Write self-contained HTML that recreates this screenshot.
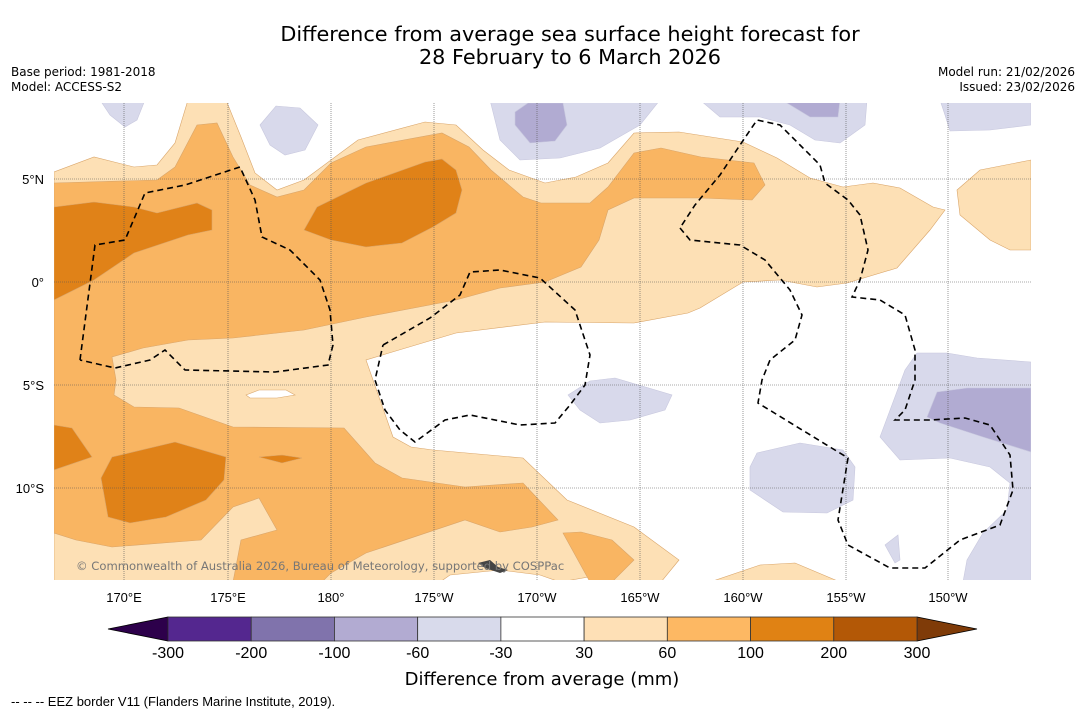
<!DOCTYPE html>
<html><head><meta charset="utf-8">
<style>
body{margin:0;background:#fff;width:1085px;height:713px;overflow:hidden;font-family:"Liberation Sans",sans-serif}
svg{display:block}
.dv{font-family:"DejaVu Sans",sans-serif}
</style></head><body>
<svg width="1085" height="713" viewBox="0 0 1085 713" xmlns="http://www.w3.org/2000/svg" font-family="Liberation Sans, sans-serif">
<rect width="1085" height="713" fill="#fff"/>
<text class="dv" x="570" y="41" font-size="20.8" text-anchor="middle">Difference from average sea surface height forecast for</text>
<text class="dv" x="570" y="64" font-size="20.8" text-anchor="middle">28 February to 6 March 2026</text>
<text class="dv" x="11" y="76" font-size="12">Base period: 1981-2018</text>
<text class="dv" x="11" y="91" font-size="12">Model: ACCESS-S2</text>
<text class="dv" x="1075" y="76" font-size="12" text-anchor="end">Model run: 21/02/2026</text>
<text class="dv" x="1075" y="91" font-size="12" text-anchor="end">Issued: 23/02/2026</text>

<defs><clipPath id="mc"><rect x="54" y="103" width="977" height="477"/></clipPath></defs>
<g clip-path="url(#mc)">
<rect x="54" y="103" width="977" height="477" fill="#fff"/>
<g stroke="#d9a56a" stroke-width="0.6">
<polygon fill="#fde0b5" points="54,172 94,157 134,167 157,165 175,143 188,100 226,100 241,137 255,173 277,190 304,180 358,140 425,122 456,125 483,150 509,170 545,183 576,177 608,163 634,133 679,132 743,142 777,158 810,178 843,187 873,183 900,188 933,207 945,210 930,230 897,268 847,283 817,287 780,280 743,282 700,308 688,313 634,323 545,322 456,333 389,353 366,360 393,437 411,447 433,450 523,458 567,500 634,527 679,560 661,582 620,582 600,575 560,582 540,575 500,570 450,575 440,582 54,582"/>
<polygon fill="#fde0b5" points="957,190 980,170 1031,160 1031,250 1010,250 990,240 960,215"/>
<polygon fill="#fde0b5" points="710,582 760,565 795,563 840,582"/>
<polygon fill="#f9b562" points="54,183 157,180 175,167 197,125 217,123 233,157 250,185 277,197 304,190 331,163 366,147 442,133 469,147 491,170 523,197 541,203 590,203 608,187 634,153 661,148 701,157 754,163 765,185 752,200 700,198 634,198 608,210 599,240 581,267 545,282 500,288 456,300 366,317 304,330 233,338 188,340 143,348 112,357 116,380 114,395 134,407 179,408 233,427 344,428 375,463 402,478 465,487 523,483 558,520 532,527 500,532 465,520 366,553 331,573 322,582 233,582 241,540 277,530 259,498 233,507 201,540 112,547 76,540 54,533"/>
<polygon fill="#f9b562" points="563,533 581,532 612,540 634,560 612,582 590,582"/>
<polygon fill="#e08218" points="54,207 94,202 134,207 157,213 197,203 212,210 212,230 188,235 134,253 94,280 54,300"/>
<polygon fill="#e08218" points="304,230 317,207 366,183 425,162 442,159 456,170 462,190 456,213 433,227 402,243 366,247 331,240"/>
<polygon fill="#e08218" points="101,478 112,457 175,442 226,457 224,480 206,500 166,517 130,523 108,517"/>
<polygon fill="#e08218" points="54,425 72,428 92,457 54,470"/>
<polygon fill="#e08218" points="259,457 282,455 302,458 282,463"/>
<polygon fill="#fff" points="246,395 259,390 286,390 295,395 277,398 250,398"/>
</g>
<g stroke="#c8c8de" stroke-width="0.6">
<polygon fill="#d8d9eb" points="100,100 145,100 137,120 125,127 110,115"/>
<polygon fill="#d8d9eb" points="260,125 276,106 300,108 318,125 305,150 285,155 270,145"/>
<polygon fill="#d8d9eb" points="490,100 660,100 640,125 600,148 560,158 520,160 500,140"/>
<polygon fill="#b1abd2" points="515,112 528,103 563,103 567,125 555,141 530,143 515,125"/>
<polygon fill="#d8d9eb" points="700,100 867,100 865,125 840,143 815,140 790,125 760,117 720,117"/>
<polygon fill="#b1abd2" points="782,100 840,100 838,117 810,117"/>
<polygon fill="#d8d9eb" points="940,100 1031,100 1031,125 990,130 950,131 945,115"/>
<polygon fill="#d8d9eb" points="568,395 590,381 615,378 672,395 665,410 630,420 600,423 580,410"/>
<polygon fill="#d8d9eb" points="880,437 905,370 917,353 947,353 977,358 1031,362 1031,582 963,582 967,560 983,533 1007,510 1010,483 990,467 950,458 900,460"/>
<polygon fill="#b1abd2" points="927,417 937,392 967,388 1031,388 1031,452 983,437 940,423"/>
<polygon fill="#d8d9eb" points="750,467 757,453 800,443 843,450 855,467 853,500 827,513 783,512 750,490"/>
<polygon fill="#d8d9eb" points="885,545 898,535 900,560 895,563"/>
</g>
<g stroke="#555" stroke-width="0.6" stroke-dasharray="1,1">
<line x1="124" y1="103" x2="124" y2="580"/><line x1="228" y1="103" x2="228" y2="580"/><line x1="331" y1="103" x2="331" y2="580"/><line x1="434" y1="103" x2="434" y2="580"/><line x1="537" y1="103" x2="537" y2="580"/><line x1="640" y1="103" x2="640" y2="580"/><line x1="743" y1="103" x2="743" y2="580"/><line x1="846" y1="103" x2="846" y2="580"/><line x1="948" y1="103" x2="948" y2="580"/>
<line x1="54" y1="179" x2="1031" y2="179"/><line x1="54" y1="282" x2="1031" y2="282"/><line x1="54" y1="385" x2="1031" y2="385"/><line x1="54" y1="488" x2="1031" y2="488"/>
</g>
<g fill="none" stroke="#000" stroke-width="1.6" stroke-dasharray="6,4">
<polyline points="80,360 95,245 125,240 145,193 185,185 240,167 255,200 262,237 290,250 320,280 330,310 333,345 328,365 275,372 185,370 165,350 150,360 115,368 80,360"/>
<polyline points="383,345 430,318 460,295 470,272 500,270 540,278 575,310 590,355 585,385 570,405 555,423 520,425 470,415 445,420 415,442 400,430 385,410 375,380 383,345"/>
<polyline points="680,228 690,240 740,245 765,260 790,290 802,315 795,340 770,360 762,380 758,403 848,458 838,520 848,545 890,568 925,568 960,540 1000,525 1013,490 1010,455 990,425 965,418 930,420 895,420 905,410 915,380 915,350 905,315 880,300 852,297 860,280 868,250 860,215 848,200 825,183 820,165 800,145 780,125 757,120 740,145 720,175 695,205 680,228"/>
</g>
<polygon fill="#444" points="478,563 490,560 498,567 508,570 500,573 485,568"/>
<text class="dv" x="76" y="570" font-size="11.6" fill="#777">© Commonwealth of Australia 2026, Bureau of Meteorology, supported by COSPPac</text>
</g>
<g font-size="13" text-anchor="middle">
<text x="124" y="602">170°E</text><text x="228" y="602">175°E</text><text x="331" y="602">180°</text><text x="434" y="602">175°W</text><text x="537" y="602">170°W</text><text x="640" y="602">165°W</text><text x="743" y="602">160°W</text><text x="846" y="602">155°W</text><text x="948" y="602">150°W</text>
</g>
<g font-size="13" text-anchor="end">
<text x="44" y="184">5°N</text><text x="44" y="287">0°</text><text x="44" y="390">5°S</text><text x="44" y="493">10°S</text>
</g>
<g id="cbar"></g>
<text class="dv" x="542" y="685" font-size="18" text-anchor="middle">Difference from average (mm)</text>
<text x="11" y="706" font-size="13">--  --  -- EEZ border V11 (Flanders Marine Institute, 2019).</text>
</svg>
<script>
const levels=["-300","-200","-100","-60","-30","30","60","100","200","300"];
const colors=["#54278f","#8073ac","#b2abd2","#d8daeb","#ffffff","#fee0b6","#fdb863","#e08214","#b35806"];
const extremes=["#2d004b","#7f3b08"];
const g=document.getElementById('cbar');
const NS="http://www.w3.org/2000/svg";
const x0=168,x1=917,y0=617,h=24;
const w=(x1-x0)/colors.length;
function mk(t,a){const e=document.createElementNS(NS,t);for(const k in a)e.setAttribute(k,a[k]);g.appendChild(e);return e;}
const l=mk('polygon',{points:`108,${y0+h/2} ${x0},${y0} ${x0},${y0+h}`,fill:extremes[0],stroke:'#000','stroke-width':0.8});


const r=mk('polygon',{points:`977,${y0+h/2} ${x1},${y0} ${x1},${y0+h}`,fill:extremes[1],stroke:'#000','stroke-width':0.8});


colors.forEach((c,i)=>{
 const b=mk('rect',{x:x0+i*w,y:y0,width:w,height:h,fill:c,stroke:'#333','stroke-width':0.8});
 
 
});
levels.forEach((v,i)=>{
 const t=mk('text',{x:x0+i*w,y:658,'font-size':16,'text-anchor':'middle'});
 t.textContent=v;
 
 
});
</script>
</body></html>
